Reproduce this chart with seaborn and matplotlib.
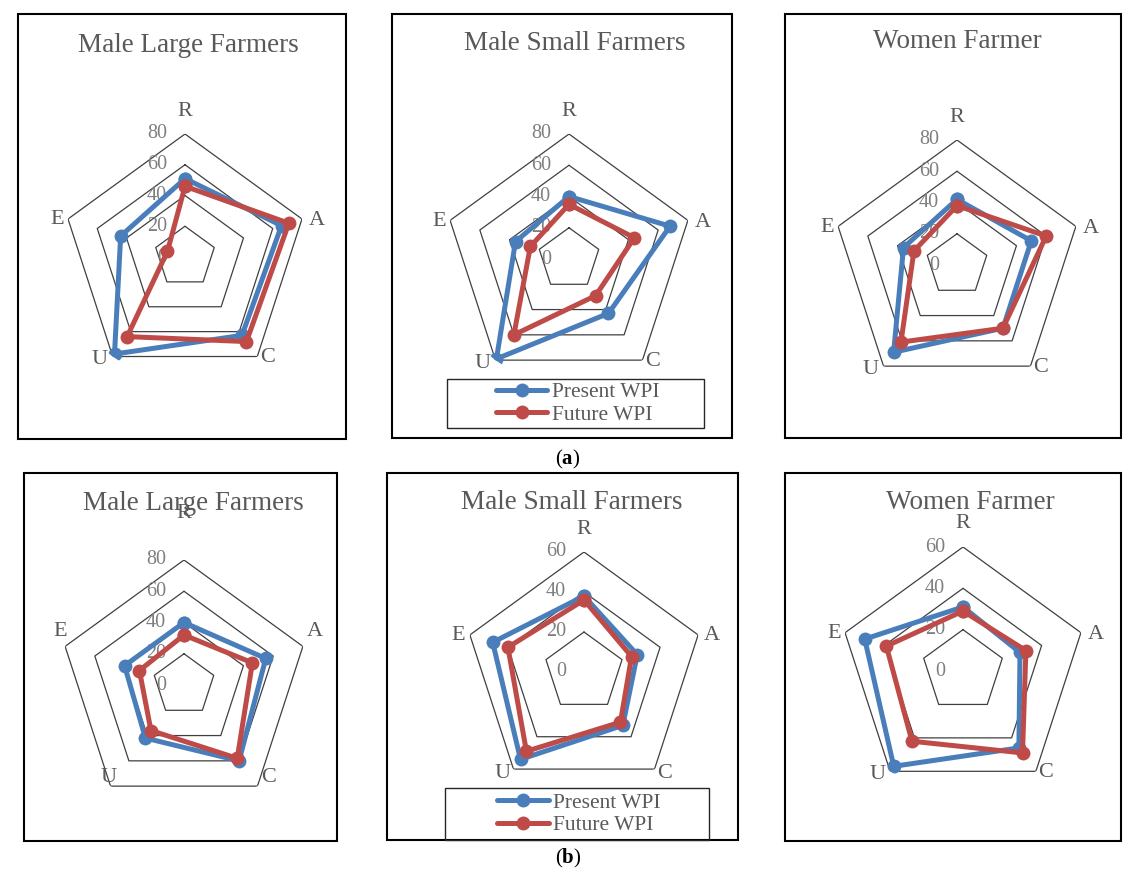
import numpy as np
import pandas as pd
import matplotlib
matplotlib.use("Agg")
import matplotlib.pyplot as plt
import seaborn as sns
from matplotlib.lines import Line2D
from matplotlib.patches import Rectangle

# ---------------- data ----------------
categories = ["R", "A", "C", "U", "E"]
series_names = ["Present WPI", "Future WPI"]
panel_titles = ["Male Large Farmers", "Male Small Farmers", "Women Farmer",
                "Male Large Farmers", "Male Small Farmers", "Women Farmer"]

present_a_large = [51, 66, 63, 78, 44]
future_a_large = [46, 71, 68, 64, 12]
present_a_small = [40, 68, 43, 79, 36]
future_a_small = [35, 44, 29, 60, 26]
present_a_women = [42, 50, 50, 69, 36]
future_a_women = [38, 60, 50, 61, 29]

present_b_large = [40, 55, 60, 42, 40]
future_b_large = [32, 46, 58, 36, 30]
present_b_small = [38, 28, 33, 54, 48]
future_b_small = [36, 25, 31, 49, 40]
present_b_women = [31, 29, 46, 57, 50]
future_b_women = [29, 32, 49, 42, 39]

ticks_80 = [0, 20, 40, 60, 80]
ticks_60 = [0, 20, 40, 60]
sub_labels = ["a", "b"]

# ---------------- style ----------------
sns.set_style("white")
SERIF = ["Liberation Serif", "DejaVu Serif"]
plt.rcParams["font.family"] = SERIF
plt.rcParams["mathtext.fontset"] = "custom"
plt.rcParams["mathtext.rm"] = "Liberation Serif"
plt.rcParams["mathtext.bf"] = "Liberation Serif:bold"

W, H = 1139, 881
fig = plt.figure(figsize=(W / 100, H / 100), dpi=100)
fig.patch.set_facecolor("white")

def fx(x):
    return x / W

def fy(y):
    return 1 - y / H

palette = {"Present WPI": "#4A7EBB", "Future WPI": "#BE4B48"}
TXT = "#595959"
TICK = "#7f7f7f"
LW = 3.6
MS = 10

std_off = [(0, 23), (15, -2), (10, -1), (-13, -3), (-11, -1)]
p4_off = [(0, 47), (12, 15), (11, 9), (-2, 9), (-5, 15)]

panels = [
    dict(pres=present_a_large, fut=future_a_large, ticks=ticks_80, box=(18, 14, 346, 439),
         c=(185, 257), r=123, title=(188, 45), off=std_off, legend=None),
    dict(pres=present_a_small, fut=future_a_small, ticks=ticks_80, box=(392, 14, 732, 438),
         c=(569, 259), r=125, title=(575, 43), off=std_off, legend=(447, 379, 704, 428)),
    dict(pres=present_a_women, fut=future_a_women, ticks=ticks_80, box=(785, 14, 1121, 438),
         c=(957, 265), r=125, title=(957, 42), off=std_off, legend=None),
    dict(pres=present_b_large, fut=future_b_large, ticks=ticks_80, box=(24, 473, 337, 841),
         c=(184, 685), r=125, title=(193, 503), off=p4_off, legend=None),
    dict(pres=present_b_small, fut=future_b_small, ticks=ticks_60, box=(387, 473, 738, 840),
         c=(584, 672), r=120, title=(572, 502), off=[(0, 22), (14, -1), (10, -4), (-11, -4), (-12, -1)],
         legend=(445, 788, 709, 840)),
    dict(pres=present_b_women, fut=future_b_women, ticks=ticks_60, box=(785, 473, 1121, 841),
         c=(963, 671), r=124, title=(970, 503), off=std_off, legend=None),
]

n = len(categories)
theta = np.linspace(0, 2 * np.pi, n + 1)

for i, p in enumerate(panels):
    x0, y0, x1, y1 = p["box"]
    fig.add_artist(Rectangle((fx(x0), fy(y1)), fx(x1 - x0), (y1 - y0) / H,
                             transform=fig.transFigure, fill=False,
                             edgecolor="black", linewidth=1.5, zorder=0))
    cx, cy = p["c"]
    r = p["r"]
    ax = fig.add_axes([fx(cx - r), fy(cy + r), 2 * r / W, 2 * r / H], projection="polar")
    ax.set_facecolor("none")
    ax.set_theta_zero_location("N")
    ax.set_theta_direction(-1)
    rmax = p["ticks"][-1]

    # pentagon grid
    for v in p["ticks"][1:]:
        ax.plot(theta, [v] * (n + 1), color="#404040", linewidth=0.9, zorder=1)

    df = pd.DataFrame({
        "theta": np.concatenate([theta, theta]),
        "value": list(p["pres"]) + [p["pres"][0]] + list(p["fut"]) + [p["fut"][0]],
        "series": [series_names[0]] * (n + 1) + [series_names[1]] * (n + 1),
    })
    sns.lineplot(data=df, x="theta", y="value", hue="series", hue_order=series_names,
                 palette=palette, sort=False, estimator=None, marker="o",
                 markersize=MS, markeredgewidth=0, linewidth=LW, legend=False,
                 ax=ax, zorder=3)

    ax.set_xlim(0, 2 * np.pi)
    ax.set_ylim(0, rmax)
    ax.grid(False)
    ax.spines["polar"].set_visible(False)
    ax.set_xticks([])
    ax.set_yticks([])
    ax.set_xlabel("")
    ax.set_ylabel("")

    # radial tick labels
    for v in p["ticks"]:
        ax.annotate(str(v), xy=(0, v), xytext=(-18, 0), textcoords="offset pixels",
                    ha="right", va="center", fontsize=14.5, color=TICK, zorder=2)
    # category labels
    for k, cat in enumerate(categories):
        dx, dy = p["off"][k]
        ax.annotate(cat, xy=(theta[k], rmax), xytext=(dx, dy), textcoords="offset pixels",
                    ha="center", va="center", fontsize=16, color=TXT,
                    annotation_clip=False)

    tx, ty = p["title"]
    fig.text(fx(tx), fy(ty), panel_titles[i], ha="center", va="center",
             fontsize=19.5, color=TXT)

    if p["legend"] is not None:
        lx0, ly0, lx1, ly1 = p["legend"]
        fig.add_artist(Rectangle((fx(lx0), fy(ly1)), fx(lx1 - lx0), (ly1 - ly0) / H,
                                 transform=fig.transFigure, fill=False,
                                 edgecolor="#262626", linewidth=1.0, zorder=0))
        handles = [Line2D([], [], color=palette[s], marker="o", markersize=MS,
                          markeredgewidth=0, linewidth=LW) for s in series_names]
        fig.legend(handles, series_names, loc="center",
                   bbox_to_anchor=(fx((lx0 + lx1) / 2 + 2), fy((ly0 + ly1) / 2)),
                   frameon=False, fontsize=15.5, handlelength=2.4, handletextpad=0.2,
                   labelspacing=0.1, borderpad=0.0, labelcolor=TXT)

for lab, y in zip(sub_labels, [459, 858]):
    fig.text(fx(568), fy(y), "(" + r"$\mathbf{" + lab + "}$" + ")", ha="center", va="center",
             fontsize=15, color="black")

fig.savefig("out.png", dpi=100, facecolor="white")
